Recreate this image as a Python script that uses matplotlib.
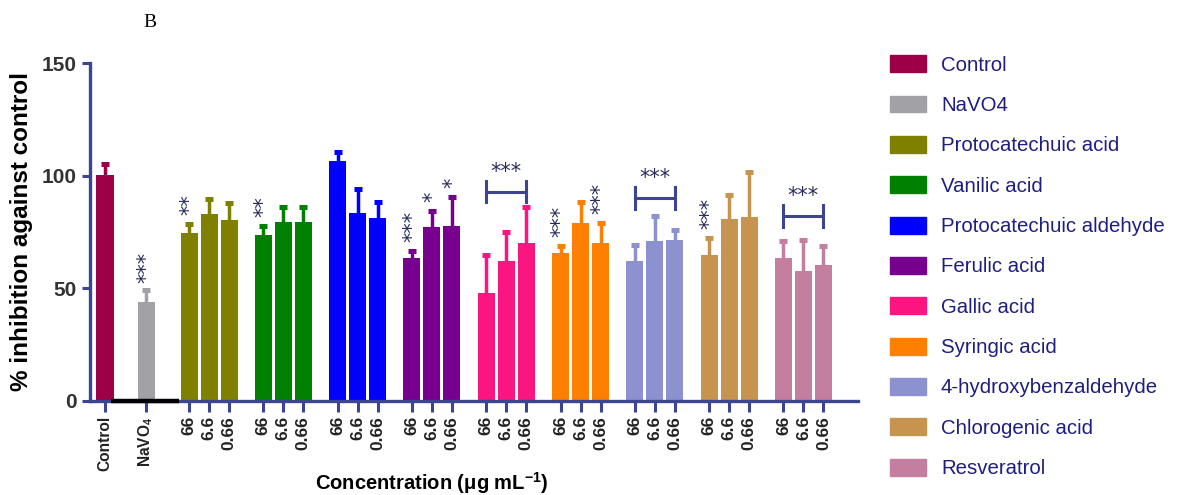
import matplotlib
matplotlib.use('Agg')
import matplotlib.pyplot as plt
import numpy as np
from matplotlib.patches import Patch

plt.rcParams['font.family'] = ['Liberation Sans', 'DejaVu Sans']
plt.rcParams['mathtext.fontset'] = 'custom'
plt.rcParams['mathtext.rm'] = 'Liberation Sans'
plt.rcParams['mathtext.bf'] = 'Liberation Sans:bold'

# reference bars
ref_names = ['Control', 'NaVO4']
ref_means = [100.3, 43.8]
ref_err = [4.7, 5.5]
ref_colors = ['#9e0048', '#a2a2a6']

# compounds, each tested at 66 / 6.6 / 0.66 ug/mL
compounds = ['Protocatechuic acid', 'Vanilic acid', 'Protocatechuic aldehyde',
             'Ferulic acid', 'Gallic acid', 'Syringic acid',
             '4-hydroxybenzaldehyde', 'Chlorogenic acid', 'Resveratrol']
concs = ['66', '6.6', '0.66']
means = [[74.7, 83.0, 80.3],
         [73.7, 79.3, 79.6],
         [106.7, 83.3, 81.0],
         [63.3, 77.0, 77.7],
         [48.0, 61.9, 70.0],
         [65.8, 78.9, 70.0],
         [62.0, 71.0, 71.5],
         [64.8, 80.8, 81.8],
         [63.6, 57.8, 60.4]]
errs = [[4.0, 6.5, 7.7],
        [4.0, 6.9, 6.4],
        [4.0, 10.7, 7.5],
        [3.4, 7.5, 13.0],
        [17.0, 13.3, 16.0],
        [3.0, 9.6, 9.2],
        [7.1, 11.1, 4.4],
        [7.4, 10.6, 19.7],
        [7.4, 13.7, 8.5]]
colors = ['#808000', '#008000', '#0000ff', '#78008f', '#fb1580',
          '#ff8000', '#8c91cf', '#c6944f', '#c47e9f']

# significance: (compound index, concentration index, stars)
single_stars = [(0, 0, '**'), (1, 0, '**'), (3, 0, '***'), (3, 1, '*'),
                (3, 2, '*'), (5, 0, '***'), (5, 2, '***'), (7, 0, '***')]
# bracket over whole group: (compound index, height, stars)
group_stars = [(4, 92.8, '***'), (6, 90.1, '***'), (8, 82.1, '***')]
navo4_stars = '***'

axis_col = '#3d4590'
star_col = '#2a2d5c'

fig = plt.figure(figsize=(11.78, 4.95), dpi=100)
ax = fig.add_axes([0.0764, 0.19, 0.652, 0.6827])

bw = 0.85
ref_pos = [0.0, 2.05]
group_start = 4.2
group_step = 3.715
pos = [[group_start + g * group_step + j for j in range(3)] for g in range(len(compounds))]

ekw = dict(fmt='none', capsize=2.9, capthick=3.6, elinewidth=2.5, zorder=2)


def upper_err(x, m, e, c):
    # only the upper half of the error bar, as in the original figure
    _, caps, _ = ax.errorbar(x, m, yerr=[np.zeros(len(e)), e], ecolor=c, **ekw)
    caps[0].set_visible(False)


for x, m, e, c in zip(ref_pos, ref_means, ref_err, ref_colors):
    ax.bar(x, m, width=bw, color=c, zorder=2)
    upper_err([x], [m], [e], c)

for g in range(len(compounds)):
    ax.bar(pos[g], means[g], width=bw, color=colors[g], zorder=2)
    upper_err(pos[g], means[g], errs[g], colors[g])

# black stroke along the baseline between control and first compound
ax.plot([ref_pos[0] + 0.3, pos[0][0] - bw / 2 - 0.1], [0, 0], color='black', lw=3.2,
        solid_capstyle='butt', zorder=4, clip_on=False)

# stars
skw = dict(fontsize=15, color=star_col, family='DejaVu Sans')
ax.text(ref_pos[1], ref_means[1] + ref_err[1] + 3.0, navo4_stars, rotation=90,
        ha='center', va='bottom', **skw)
for g, j, s in single_stars:
    ax.text(pos[g][j], means[g][j] + errs[g][j] + 4.0, s, rotation=90,
            ha='center', va='bottom', **skw)
for g, h, s in group_stars:
    x0, x1 = pos[g][0], pos[g][2]
    ax.plot([x0, x1], [h, h], color=axis_col, lw=2.2, zorder=3)
    ax.plot([x0, x0], [h - 4.7, h + 4.7], color=axis_col, lw=2.2, zorder=3)
    ax.plot([x1, x1], [h - 4.7, h + 4.7], color=axis_col, lw=2.2, zorder=3)
    ax.text((x0 + x1) / 2, h + 4.5, s, ha='center', va='bottom', **skw)

ax.set_xlim(-0.75, 37.65)
ax.set_ylim(0, 150)
ax.set_yticks([0, 50, 100, 150])
ax.tick_params(axis='y', labelsize=15, width=2.2, length=6, color=axis_col, labelcolor='#333333')
for lab in ax.get_yticklabels():
    lab.set_fontweight('bold')

xt = ref_pos + [p for grp in pos for p in grp]
xl = ['Control', r'NaVO$_{\mathbf{4}}$'] + concs * len(compounds)
ax.set_xticks(xt)
ax.set_xticklabels(xl, rotation=90, fontweight='bold', fontsize=12.5, color='#222222')
for lab in ax.get_xticklabels()[:2]:
    lab.set_fontsize(11.2)
ax.tick_params(axis='x', width=2.2, length=8, color=axis_col, pad=3)

for side in ['top', 'right']:
    ax.spines[side].set_visible(False)
for side in ['left', 'bottom']:
    ax.spines[side].set_color(axis_col)
    ax.spines[side].set_linewidth(2.4)

ax.set_ylabel('% inhibition against control', fontsize=17.5, fontweight='bold', labelpad=6)
ax.set_xlabel(r'Concentration (μg mL$^{\mathbf{-1}}$)', fontsize=14.5, fontweight='bold',
              x=0.445)
ax.xaxis.set_label_coords(0.445, -0.205)

handles = [Patch(color=c) for c in ref_colors + colors]
labels = ['Control', 'NaVO4'] + compounds
leg = fig.legend(handles, labels, loc='upper left', bbox_to_anchor=(0.749, 0.905),
                 frameon=False, fontsize=14.7, handlelength=1.75, handleheight=0.9,
                 handletextpad=0.72, labelspacing=1.02, borderaxespad=0)
for t in leg.get_texts():
    t.set_color('#1e1e80')

fig.text(0.127, 0.955, 'B', family='Liberation Serif', fontsize=14, ha='center', va='center')

fig.savefig('out.png', dpi=100)
